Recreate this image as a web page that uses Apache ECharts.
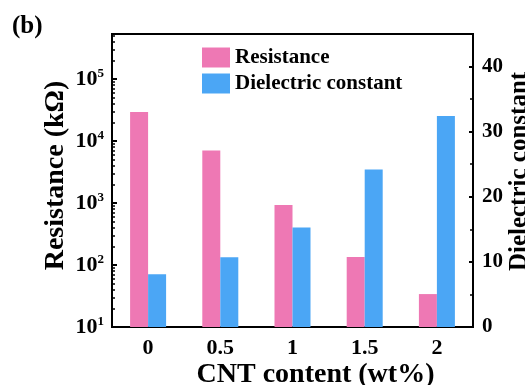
<!DOCTYPE html>
<html>
<head>
<meta charset="utf-8">
<script src="https://cdn.jsdelivr.net/npm/echarts@6/dist/echarts.min.js"></script>
<style>
  html, body { margin: 0; padding: 0; background: #fff; }
  #chart { width: 525px; height: 385px; }
</style>
</head>
<body>
<div id="chart"></div>
<script>
// data
const categories = ['0', '0.5', '1', '1.5', '2']
const resistance = [29500, 7100, 930, 135, 34]       // kΩ, log axis
const dielectric = [8.1, 10.7, 15.3, 24.2, 32.4]

const font = 'Liberation Serif'
const pink = '#ee78b4'
const blue = '#4ba6f5'

// log minor tick positions (2..9 x 10^n)
const logMinorTicks = []
for (let p = 1; p <= 5; p++) {
  for (let m = 2; m <= 9; m++) {
    const v = m * Math.pow(10, p)
    if (v < 537000) logMinorTicks.push(v)
  }
}

const chart = echarts.init(document.getElementById('chart'))

const option = {
  animation: false,
  textStyle: { fontFamily: font },
  title: {
    text: '(b)',
    left: 7,
    top: 9,
    textStyle: { fontFamily: font, fontSize: 25, fontWeight: 'bold', color: '#000' }
  },
  legend: {
    left: 197,
    top: 42,
    orient: 'vertical',
    itemWidth: 28,
    itemHeight: 20,
    itemGap: 5,
    icon: 'rect',
    textStyle: { fontFamily: font, fontSize: 21, fontWeight: 'bold', color: '#000' }
  },
  grid: {
    left: 112,
    right: 52,
    top: 34,
    bottom: 58,
    outerBoundsMode: 'none',
    show: true,
    borderColor: '#000',
    borderWidth: 2
  },
  xAxis: [
    {
      type: 'category',
      data: categories,
      name: 'CNT content (wt%)',
      nameLocation: 'middle',
      nameGap: 34,
      nameMoveOverlap: false,
      nameTextStyle: { fontFamily: font, fontSize: 28, fontWeight: 'bold', color: '#000', padding: [0, 0, 0, 46] },
      axisLine: { lineStyle: { color: '#000', width: 2 } },
      axisTick: { inside: true, length: 3, lineStyle: { width: 2 } },
      axisLabel: { fontFamily: font, fontSize: 22, fontWeight: 'bold', color: '#000', margin: 10 }
    },
    {
      // second copy only for the ticks under each category
      type: 'category',
      data: categories,
      position: 'bottom',
      axisLine: { show: false },
      axisTick: { inside: true, length: 4, alignWithLabel: true, lineStyle: { color: '#000', width: 2 } },
      axisLabel: { show: false }
    }
  ],
  yAxis: [
    {
      type: 'log',
      logBase: 10,
      min: 10,
      max: 537000,
      name: 'Resistance (kΩ)',
      nameLocation: 'middle',
      nameGap: 42,
      nameMoveOverlap: false,
      nameTextStyle: { fontFamily: font, fontSize: 28, fontWeight: 'bold', color: '#000', padding: [0, 0, 0, 10] },
      axisLine: { show: true, lineStyle: { color: '#000', width: 2 } },
      axisTick: { show: true, inside: true, length: 5, lineStyle: { width: 2 } },
      splitLine: { show: false },
      axisLabel: {
        showMaxLabel: false,
        margin: 8,
        formatter: v => '{b|10}{s|' + Math.round(Math.log10(v)) + '}',
        rich: {
          b: { fontFamily: font, fontSize: 22, fontWeight: 'bold', color: '#000' },
          s: { fontFamily: font, fontSize: 13, fontWeight: 'bold', color: '#000', padding: [0, 0, 11, 0] }
        }
      }
    },
    {
      type: 'value',
      min: 0,
      max: 45,
      interval: 10,
      name: 'Dielectric constant',
      nameLocation: 'middle',
      nameGap: 34,
      nameMoveOverlap: false,
      nameRotate: 90,
      nameTextStyle: { fontFamily: font, fontSize: 25, fontWeight: 'bold', color: '#000', padding: [0, 0, 0, 18] },
      axisLine: { show: true, lineStyle: { color: '#000', width: 2 } },
      axisTick: { show: true, inside: true, length: 4, lineStyle: { width: 2 } },
      minorTick: { show: true, splitNumber: 2, length: 3, lineStyle: { color: '#000', width: 1.5 } },
      splitLine: { show: false },
      axisLabel: { showMaxLabel: false, fontFamily: font, fontSize: 21, fontWeight: 'bold', color: '#000', margin: 9 }
    },
    {
      // overlay on the left axis, only for the log minor ticks
      type: 'log',
      logBase: 10,
      min: 10,
      max: 537000,
      position: 'left',
      axisLine: { show: false },
      axisLabel: { show: false },
      splitLine: { show: false },
      axisTick: { show: true, inside: true, length: 3, customValues: logMinorTicks, lineStyle: { color: '#000', width: 1.5 } }
    }
  ],
  series: [
    {
      name: 'Resistance',
      type: 'bar',
      yAxisIndex: 0,
      barWidth: 18,
      barGap: '0%',
      itemStyle: { color: pink },
      data: resistance
    },
    {
      name: 'Dielectric constant',
      type: 'bar',
      yAxisIndex: 1,
      barWidth: 18,
      barGap: '0%',
      itemStyle: { color: blue },
      data: dielectric
    }
  ]
}

chart.setOption(option)
</script>
</body>
</html>
